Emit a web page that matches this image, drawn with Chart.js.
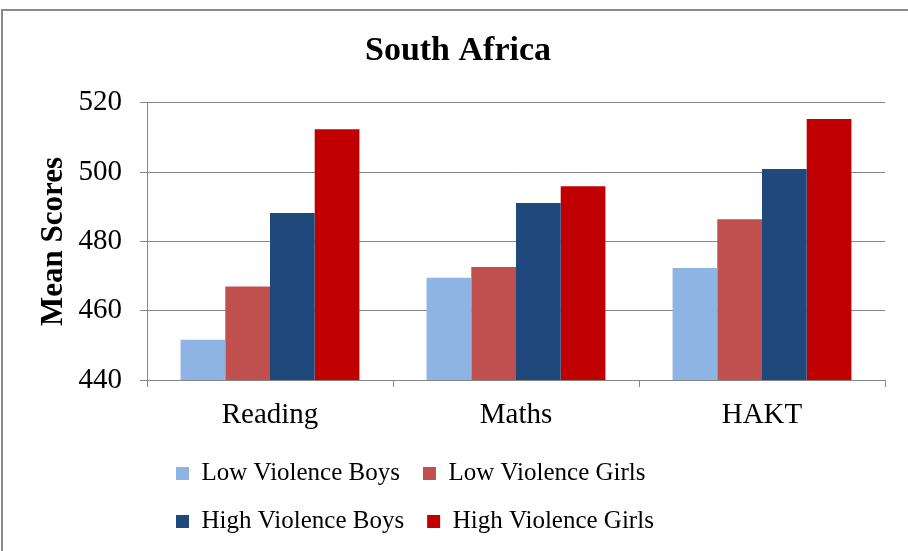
<!DOCTYPE html>
<html>
<head>
<meta charset="utf-8">
<script src="https://cdn.jsdelivr.net/npm/chart.js@4/dist/chart.umd.min.js"></script>
<style>
  html, body { margin: 0; padding: 0; background: #fff; }
  #wrap { position: relative; width: 908px; height: 551px; overflow: hidden; }
  #frame { position: absolute; left: 1px; top: 9px; width: 940px; height: 600px;
           border-top: 2px solid #8a8a8a; border-left: 2px solid #8a8a8a; pointer-events: none; }
  canvas { position: absolute; left: 0; top: 0; }
</style>
</head>
<body>
<div id="wrap">
  <canvas id="c" width="908" height="551"></canvas>
  <div id="frame"></div>
</div>
<script>
const categories = ['Reading', 'Maths', 'HAKT'];
const seriesNames = ['Low Violence Boys', 'Low Violence Girls', 'High Violence Boys', 'High Violence Girls'];
const lowViolenceBoys = [451.6, 469.5, 472.3];
const lowViolenceGirls = [467.0, 472.6, 486.4];
const highViolenceBoys = [488.2, 491.1, 500.9];
const highViolenceGirls = [512.4, 495.9, 515.3];
const seriesColors = ['#8EB4E3', '#C0504D', '#1F497D', '#C00000'];
const yTicks = [440, 460, 480, 500, 520];

const serif = "'Liberation Serif', 'Times New Roman', serif";
const gridColor = '#868686';

const legendPlacer = {
  id: 'legendPlacer',
  afterLayout(chart) {
    const lg = chart.legend;
    if (!lg) return;
    lg.left = 153;
    lg.right = 800;
  }
};

new Chart(document.getElementById('c'), {
  type: 'bar',
  data: {
    labels: categories,
    datasets: [lowViolenceBoys, lowViolenceGirls, highViolenceBoys, highViolenceGirls].map((d, i) => ({
      label: seriesNames[i],
      data: d,
      backgroundColor: seriesColors[i],
      borderWidth: 0,
      categoryPercentage: 0.727,
      barPercentage: 1.0
    }))
  },
  options: {
    responsive: false,
    animation: false,
    devicePixelRatio: 1,
    layout: { padding: { left: 31, right: 23, top: 0, bottom: 7 } },
    plugins: {
      title: {
        display: true,
        text: 'South Africa',
        color: '#000',
        font: { family: serif, size: 34, weight: 'bold', lineHeight: 1.2 },
        padding: { top: 31, bottom: 31 }
      },
      legend: {
        display: true,
        position: 'bottom',
        align: 'start',
        labels: {
          color: '#000',
          font: { family: serif, size: 25 },
          boxWidth: 13,
          boxHeight: 13,
          padding: 23
        }
      },
      tooltip: { enabled: false }
    },
    scales: {
      x: {
        offset: true,
        grid: { display: true, drawOnChartArea: false, drawTicks: true, tickLength: 7, color: gridColor, offset: true },
        border: { display: true, color: gridColor, width: 1 },
        ticks: { color: '#000', font: { family: serif, size: 29 }, padding: 11 },
        afterFit(s) { s.height = 58; }
      },
      y: {
        min: yTicks[0],
        max: yTicks[yTicks.length - 1],
        afterBuildTicks(s) { s.ticks = yTicks.map(v => ({ value: v })); },
        grid: { display: true, drawTicks: true, tickLength: 7, color: gridColor },
        border: { display: true, color: gridColor, width: 1 },
        ticks: { color: '#000', font: { family: serif, size: 29 }, padding: 18 },
        title: {
          display: true,
          text: 'Mean Scores',
          color: '#000',
          font: { family: serif, size: 31, weight: 'bold', lineHeight: 1.2 },
          padding: { top: 4, bottom: 0 }
        },
        afterFit(s) { s.width = 116; }
      }
    }
  },
  plugins: [legendPlacer]
});
</script>
</body>
</html>
